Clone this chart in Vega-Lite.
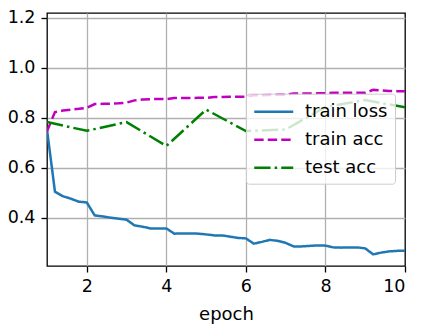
{
  "$schema": "https://vega.github.io/schema/vega-lite/v6.json",
  "width": 358,
  "height": 253,
  "autosize": {"type": "none"},
  "padding": {"left": 47, "top": 13, "right": 16, "bottom": 61},
  "config": {
    "font": "DejaVu Sans",
    "view": {"stroke": "black", "strokeWidth": 1.3},
    "axis": {
      "domain": false,
      "grid": true,
      "gridColor": "#b0b0b0",
      "gridWidth": 1.3,
      "tickColor": "black",
      "tickSize": 6,
      "tickWidth": 1.3,
      "labelFontSize": 17.5,
      "labelColor": "black",
      "titleFontSize": 18,
      "titleFontWeight": "normal",
      "titleColor": "black"
    }
  },
  "data": {
    "values": [
      {"epoch": 1.0, "value": 0.753, "series": "train loss"},
      {"epoch": 1.2, "value": 0.504, "series": "train loss"},
      {"epoch": 1.4, "value": 0.486, "series": "train loss"},
      {"epoch": 1.6, "value": 0.476, "series": "train loss"},
      {"epoch": 1.8, "value": 0.464, "series": "train loss"},
      {"epoch": 2.0, "value": 0.461, "series": "train loss"},
      {"epoch": 2.2, "value": 0.409, "series": "train loss"},
      {"epoch": 2.4, "value": 0.405, "series": "train loss"},
      {"epoch": 2.6, "value": 0.400, "series": "train loss"},
      {"epoch": 2.8, "value": 0.396, "series": "train loss"},
      {"epoch": 3.0, "value": 0.392, "series": "train loss"},
      {"epoch": 3.2, "value": 0.369, "series": "train loss"},
      {"epoch": 3.4, "value": 0.364, "series": "train loss"},
      {"epoch": 3.6, "value": 0.357, "series": "train loss"},
      {"epoch": 3.8, "value": 0.357, "series": "train loss"},
      {"epoch": 4.0, "value": 0.357, "series": "train loss"},
      {"epoch": 4.2, "value": 0.336, "series": "train loss"},
      {"epoch": 4.4, "value": 0.337, "series": "train loss"},
      {"epoch": 4.6, "value": 0.337, "series": "train loss"},
      {"epoch": 4.8, "value": 0.336, "series": "train loss"},
      {"epoch": 5.0, "value": 0.333, "series": "train loss"},
      {"epoch": 5.2, "value": 0.329, "series": "train loss"},
      {"epoch": 5.4, "value": 0.329, "series": "train loss"},
      {"epoch": 5.6, "value": 0.324, "series": "train loss"},
      {"epoch": 5.8, "value": 0.319, "series": "train loss"},
      {"epoch": 6.0, "value": 0.317, "series": "train loss"},
      {"epoch": 6.2, "value": 0.296, "series": "train loss"},
      {"epoch": 6.4, "value": 0.303, "series": "train loss"},
      {"epoch": 6.6, "value": 0.311, "series": "train loss"},
      {"epoch": 6.8, "value": 0.307, "series": "train loss"},
      {"epoch": 7.0, "value": 0.299, "series": "train loss"},
      {"epoch": 7.2, "value": 0.285, "series": "train loss"},
      {"epoch": 7.4, "value": 0.285, "series": "train loss"},
      {"epoch": 7.6, "value": 0.287, "series": "train loss"},
      {"epoch": 7.8, "value": 0.289, "series": "train loss"},
      {"epoch": 8.0, "value": 0.288, "series": "train loss"},
      {"epoch": 8.2, "value": 0.281, "series": "train loss"},
      {"epoch": 8.4, "value": 0.280, "series": "train loss"},
      {"epoch": 8.6, "value": 0.281, "series": "train loss"},
      {"epoch": 8.8, "value": 0.281, "series": "train loss"},
      {"epoch": 9.0, "value": 0.277, "series": "train loss"},
      {"epoch": 9.2, "value": 0.253, "series": "train loss"},
      {"epoch": 9.4, "value": 0.260, "series": "train loss"},
      {"epoch": 9.6, "value": 0.265, "series": "train loss"},
      {"epoch": 9.8, "value": 0.267, "series": "train loss"},
      {"epoch": 10.0, "value": 0.267, "series": "train loss"},
      {"epoch": 1.0, "value": 0.746, "series": "train acc"},
      {"epoch": 1.2, "value": 0.823, "series": "train acc"},
      {"epoch": 1.4, "value": 0.829, "series": "train acc"},
      {"epoch": 1.6, "value": 0.833, "series": "train acc"},
      {"epoch": 1.8, "value": 0.836, "series": "train acc"},
      {"epoch": 2.0, "value": 0.840, "series": "train acc"},
      {"epoch": 2.2, "value": 0.855, "series": "train acc"},
      {"epoch": 2.4, "value": 0.856, "series": "train acc"},
      {"epoch": 2.6, "value": 0.857, "series": "train acc"},
      {"epoch": 2.8, "value": 0.858, "series": "train acc"},
      {"epoch": 3.0, "value": 0.861, "series": "train acc"},
      {"epoch": 3.2, "value": 0.870, "series": "train acc"},
      {"epoch": 3.4, "value": 0.873, "series": "train acc"},
      {"epoch": 3.6, "value": 0.875, "series": "train acc"},
      {"epoch": 3.8, "value": 0.875, "series": "train acc"},
      {"epoch": 4.0, "value": 0.875, "series": "train acc"},
      {"epoch": 4.2, "value": 0.879, "series": "train acc"},
      {"epoch": 4.4, "value": 0.879, "series": "train acc"},
      {"epoch": 4.6, "value": 0.879, "series": "train acc"},
      {"epoch": 4.8, "value": 0.880, "series": "train acc"},
      {"epoch": 5.0, "value": 0.880, "series": "train acc"},
      {"epoch": 5.2, "value": 0.883, "series": "train acc"},
      {"epoch": 5.4, "value": 0.883, "series": "train acc"},
      {"epoch": 5.6, "value": 0.884, "series": "train acc"},
      {"epoch": 5.8, "value": 0.884, "series": "train acc"},
      {"epoch": 6.0, "value": 0.885, "series": "train acc"},
      {"epoch": 6.2, "value": 0.890, "series": "train acc"},
      {"epoch": 6.4, "value": 0.890, "series": "train acc"},
      {"epoch": 6.6, "value": 0.891, "series": "train acc"},
      {"epoch": 6.8, "value": 0.892, "series": "train acc"},
      {"epoch": 7.0, "value": 0.893, "series": "train acc"},
      {"epoch": 7.2, "value": 0.897, "series": "train acc"},
      {"epoch": 7.4, "value": 0.897, "series": "train acc"},
      {"epoch": 7.6, "value": 0.897, "series": "train acc"},
      {"epoch": 7.8, "value": 0.898, "series": "train acc"},
      {"epoch": 8.0, "value": 0.899, "series": "train acc"},
      {"epoch": 8.2, "value": 0.900, "series": "train acc"},
      {"epoch": 8.4, "value": 0.900, "series": "train acc"},
      {"epoch": 8.6, "value": 0.900, "series": "train acc"},
      {"epoch": 8.8, "value": 0.900, "series": "train acc"},
      {"epoch": 9.0, "value": 0.900, "series": "train acc"},
      {"epoch": 9.2, "value": 0.912, "series": "train acc"},
      {"epoch": 9.4, "value": 0.910, "series": "train acc"},
      {"epoch": 9.6, "value": 0.908, "series": "train acc"},
      {"epoch": 9.8, "value": 0.907, "series": "train acc"},
      {"epoch": 10.0, "value": 0.907, "series": "train acc"},
      {"epoch": 1, "value": 0.783, "series": "test acc"},
      {"epoch": 2, "value": 0.748, "series": "test acc"},
      {"epoch": 3, "value": 0.783, "series": "test acc"},
      {"epoch": 4, "value": 0.687, "series": "test acc"},
      {"epoch": 5, "value": 0.833, "series": "test acc"},
      {"epoch": 6, "value": 0.747, "series": "test acc"},
      {"epoch": 7, "value": 0.753, "series": "test acc"},
      {"epoch": 8, "value": 0.844, "series": "test acc"},
      {"epoch": 9, "value": 0.871, "series": "test acc"},
      {"epoch": 10, "value": 0.842, "series": "test acc"}
    ]
  },
  "mark": {"type": "line", "strokeWidth": 2.5, "clip": true},
  "encoding": {
    "x": {
      "field": "epoch",
      "type": "quantitative",
      "scale": {"domain": [1, 10], "nice": false, "zero": false},
      "axis": {
        "values": [2, 4, 6, 8, 10],
        "format": "d",
        "title": "epoch",
        "labelPadding": 5,
        "titlePadding": 11,
        "gridOpacity": {"condition": {"test": "datum.value === 10", "value": 0}, "value": 1}
      }
    },
    "y": {
      "field": "value",
      "type": "quantitative",
      "scale": {"domain": [0.2064, 1.22], "nice": false, "zero": false},
      "axis": {
        "values": [0.4, 0.6, 0.8, 1.0, 1.2],
        "format": ".1f",
        "title": null,
        "labelPadding": 6
      }
    },
    "color": {
      "field": "series",
      "type": "nominal",
      "scale": {
        "domain": ["train loss", "train acc", "test acc"],
        "range": ["#1f77b4", "#bf00bf", "#008000"]
      },
      "legend": {
        "title": null,
        "orient": "none",
        "legendX": 199,
        "legendY": 80.7,
        "symbolType": "M-1,0H3",
        "symbolSize": 380,
        "symbolStrokeWidth": 2.5,
        "labelFontSize": 18,
        "labelColor": "black",
        "labelOffset": 30,
        "rowPadding": 8,
        "padding": 7,
        "fillColor": "rgba(255,255,255,0.8)",
        "strokeColor": "#cccccc",
        "cornerRadius": 3
      }
    },
    "strokeDash": {
      "field": "series",
      "type": "nominal",
      "scale": {
        "domain": ["train loss", "train acc", "test acc"],
        "range": [[1, 0], [9.4, 4.1], [16.3, 4.1, 2.5, 4.1]]
      },
      "legend": null
    }
  }
}
